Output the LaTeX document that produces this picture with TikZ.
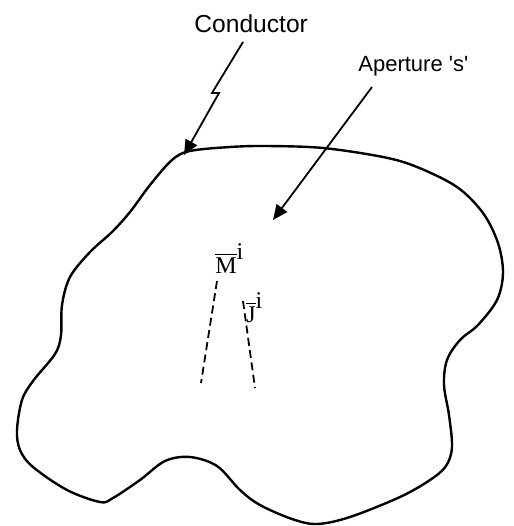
\documentclass[tikz,border=0pt]{standalone}
\usepackage{fontspec}
\setmainfont{Liberation Serif}
\newfontfamily\labelfont{Liberation Sans}
\usetikzlibrary{arrows.meta}

\begin{document}
\begin{tikzpicture}[x=0.5pt, y=-0.5pt,
  >={Triangle[length=7.5pt, width=6.5pt]},
  outline/.style={line width=1.2pt, line join=round},
  pointer/.style={->, line width=0.9pt},
  current/.style={line width=0.9pt, dash pattern=on 4pt off 2.2pt},
  tagtext/.style={inner sep=0pt, anchor=base west},
  src/.style={font=\fontsize{12}{14}\selectfont, inner sep=0pt, anchor=base west}]
\useasboundingbox (0,0) rectangle (514,526);
% conductor outline
\draw[outline] plot[smooth cycle, tension=0.55] coordinates {
  (190,151) (230,147) (267,146) (323,148) (383,157) (417,167) (457,187)
  (483,213) (498,243) (503,273) (497,300) (478,325) (460,340) (447,360)
  (444,385) (449,415) (452,447) (446,466) (430,480) (400,497) (350,517)
  (317,524) (292,519) (260,505) (240,490) (217,466) (190,457) (165,461)
  (140,480) (113,498) (100,502) (67,490) (33,467) (20,450) (17,430)
  (22,400) (33,381) (55,354) (61,335) (62,305) (70,277) (90,252)
  (112,232) (130,212) (150,185) (172,160)};
% labels
\node[tagtext, font=\labelfont\fontsize{12.3}{14}\selectfont] (cond) at (194,32) {Conductor};
\node[tagtext, font=\labelfont\fontsize{11}{13}\selectfont] (aper) at (358,71) {Aperture 's'};
\coordinate (condtail) at (243,42);
\coordinate (condtip) at (184,155);
\coordinate (apertail) at (372,87);
\coordinate (apertip) at (273,220);
\draw[pointer] (condtail) -- (212,93) -- (219,93) -- (condtip);
\draw[pointer] (apertail) -- (apertip);
% impressed sources
\coordinate (Mtop) at (217,281);
\coordinate (Mend) at (201,383);
\coordinate (Jtop) at (243,301);
\coordinate (Jend) at (255,388);
\draw[current] (Mtop) -- (Mend);
\draw[current] (Jtop) -- (Jend);
\node[src] (Mlab) at (215,273) {$\overline{\textrm{M}}^{\textrm{i}}$};
\node[src] (Jlab) at (246,322) {$\overline{\textrm{J}}^{\textrm{i}}$};
\end{tikzpicture}
\end{document}
